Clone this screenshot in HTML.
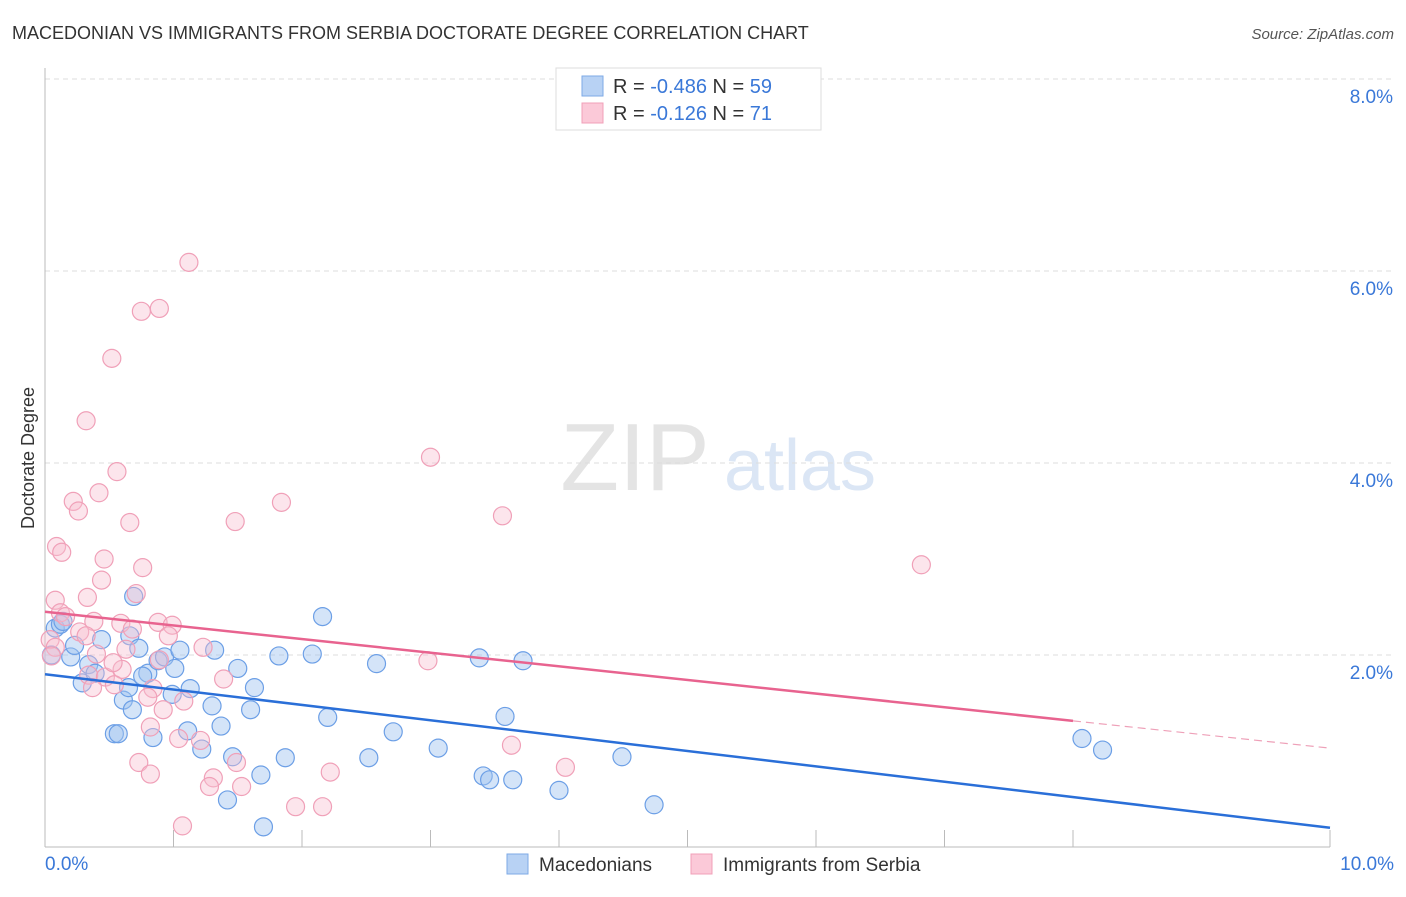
<!DOCTYPE html>
<html><head><meta charset="utf-8"><style>
body{margin:0;background:#fff;font-family:"Liberation Sans",sans-serif;}
svg text{font-family:"Liberation Sans",sans-serif;}
</style></head><body>
<svg width="1406" height="892" xmlns="http://www.w3.org/2000/svg">
<text x="12" y="39" font-size="18" fill="#333">MACEDONIAN VS IMMIGRANTS FROM SERBIA DOCTORATE DEGREE CORRELATION CHART</text>
<text x="1394" y="39" font-size="15" fill="#555" font-style="italic" text-anchor="end">Source: ZipAtlas.com</text>
<text x="635" y="490" font-size="96" fill="#e4e4e4" font-family="Liberation Serif" text-anchor="middle">ZIP</text>
<text x="800" y="490" font-size="72" fill="#dbe6f5" text-anchor="middle">atlas</text>
<g id="grid"></g>
<g id="axes"></g>
<g id="pts"></g>
<g id="lines"></g>
<text x="34" y="458" font-size="18" fill="#333" text-anchor="middle" transform="rotate(-90 34 458)">Doctorate Degree</text>
<g>
<rect x="556" y="68" width="265" height="62" fill="#fff" stroke="#ddd"/>
<rect x="582" y="76" width="21" height="20" fill="#b8d2f4" stroke="#7eaae6"/>
<rect x="582" y="103" width="21" height="20" fill="#fbc9d8" stroke="#f0a0b8"/>
<text x="613" y="93" font-size="20" fill="#333">R = <tspan fill="#3a78d8">-0.486</tspan>   N = <tspan fill="#3a78d8">59</tspan></text>
<text x="613" y="120" font-size="20" fill="#333">R =  <tspan fill="#3a78d8"> -0.126</tspan>   N =  <tspan fill="#3a78d8">71</tspan></text>
</g>
<g>
<rect x="507" y="854" width="21" height="20" fill="#b8d2f4" stroke="#7eaae6"/>
<text x="539" y="871" font-size="19" fill="#333">Macedonians</text>
<rect x="691" y="854" width="21" height="20" fill="#fbc9d8" stroke="#f0a0b8"/>
<text x="723" y="871" font-size="19" fill="#333">Immigrants from Serbia</text>
</g>
</svg>
<script>
const blueX=[0.08,0.12,0.14,0.05,0.2,0.23,0.29,0.34,0.39,0.44,0.66,0.69,0.61,0.65,0.68,0.54,0.57,0.73,0.8,0.76,0.84,0.88,0.93,1.05,1.01,0.99,1.13,1.11,1.22,1.3,1.32,1.37,1.42,1.46,1.5,1.6,1.63,1.68,1.7,1.82,1.87,2.08,2.16,2.2,2.52,2.58,2.71,3.06,3.41,3.46,3.38,3.58,3.64,3.72,4.0,4.49,4.74,8.07,8.23];
const blueY=[2.28,2.32,2.35,2.0,1.98,2.1,1.71,1.9,1.81,2.16,2.2,2.61,1.53,1.66,1.43,1.18,1.18,2.07,1.81,1.78,1.14,1.94,1.98,2.05,1.86,1.59,1.65,1.21,1.02,1.47,2.05,1.26,0.49,0.94,1.86,1.43,1.66,0.75,0.21,1.99,0.93,2.01,2.4,1.35,0.93,1.91,1.2,1.03,0.74,0.7,1.97,1.36,0.7,1.94,0.59,0.94,0.44,1.13,1.01];
const pinkX=[1.12,0.75,0.89,0.52,0.32,0.56,0.42,0.22,0.26,0.66,1.48,1.84,3.0,3.56,6.82,0.09,0.13,0.46,0.76,0.44,0.08,0.33,0.71,0.12,0.16,0.38,0.59,0.88,0.99,0.68,0.96,0.27,0.32,0.04,0.08,0.4,0.63,1.23,0.05,0.34,0.6,0.47,0.54,0.84,0.8,0.92,1.08,1.39,0.82,1.04,0.73,0.82,1.21,1.49,1.31,1.28,1.53,1.07,1.95,2.16,2.22,2.98,3.63,4.05,0.53,0.89,0.37];
const pinkY=[6.09,5.58,5.61,5.09,4.44,3.91,3.69,3.6,3.5,3.38,3.39,3.59,4.06,3.45,2.94,3.13,3.07,3.0,2.91,2.78,2.57,2.6,2.64,2.44,2.4,2.35,2.33,2.34,2.31,2.27,2.2,2.24,2.2,2.16,2.08,2.01,2.06,2.08,1.99,1.79,1.85,1.77,1.69,1.65,1.56,1.43,1.52,1.75,1.25,1.13,0.88,0.76,1.11,0.88,0.72,0.63,0.63,0.22,0.42,0.42,0.78,1.94,1.06,0.83,1.92,1.95,1.66];
const blueTrend=[1.80,0.20];
const pinkTrend=[2.45,1.03];
const yTicks=[2,4,6,8];
const xTicks=[0,1,2,3,4,5,6,7,8,10];
const NS="http://www.w3.org/2000/svg";
const sx=v=>45+v*128.5, sy=v=>847-v*96;
function mk(tag,attrs,parent){const e=document.createElementNS(NS,tag);for(const k in attrs)e.setAttribute(k,attrs[k]);document.getElementById(parent).appendChild(e);return e;}
yTicks.forEach(t=>{
 const l=mk('line',{x1:45,x2:1395,y1:sy(t),y2:sy(t),stroke:'#ddd','stroke-dasharray':'5,4'},'grid');
 
 
 const tx=mk('text',{x:1393,y:sy(t)+24,'font-size':19,fill:'#3a78d8','text-anchor':'end'},'grid');
 tx.textContent=t.toFixed(1)+'%';
 
 
});
mk('line',{x1:45,x2:45,y1:68,y2:847,stroke:'#bbb'},'axes');
mk('line',{x1:45,x2:1330,y1:847,y2:847,stroke:'#bbb'},'axes');
xTicks.forEach(t=>{const l=mk('line',{x1:sx(t),x2:sx(t),y1:830,y2:847,stroke:'#bbb'},'axes');
 
 });
[[0,'0.0%',45,'start'],[10,'10.0%',1394,'end']].forEach(a=>{const tx=mk('text',{x:a[2],y:870,'font-size':19,fill:'#3a78d8','text-anchor':a[3]},'axes');tx.textContent=a[1];
 
 });
blueX.forEach((x,i)=>{const c=mk('circle',{cx:sx(x),cy:sy(blueY[i]),r:9,fill:'rgba(160,196,240,0.45)',stroke:'#6c9fe6','stroke-width':1.2},'pts');
 
 });
pinkX.forEach((x,i)=>{const c=mk('circle',{cx:sx(x),cy:sy(pinkY[i]),r:9,fill:'rgba(248,190,208,0.4)',stroke:'#f0a0b8','stroke-width':1.2},'pts');
 
 });
const bl=mk('line',{x1:sx(0),y1:sy(blueTrend[0]),x2:sx(10),y2:sy(blueTrend[1]),stroke:'#2a6fd8','stroke-width':2.5},'lines');


const pAt=x=>pinkTrend[0]+(pinkTrend[1]-pinkTrend[0])*x/10;
const pl=mk('line',{x1:sx(0),y1:sy(pAt(0)),x2:sx(8),y2:sy(pAt(8)),stroke:'#e8638f','stroke-width':2.5},'lines');


const pd=mk('line',{x1:sx(8),y1:sy(pAt(8)),x2:sx(10),y2:sy(pAt(10)),stroke:'#eea0b8','stroke-width':1.2,'stroke-dasharray':'8,5'},'lines');


</script>
</body></html>
